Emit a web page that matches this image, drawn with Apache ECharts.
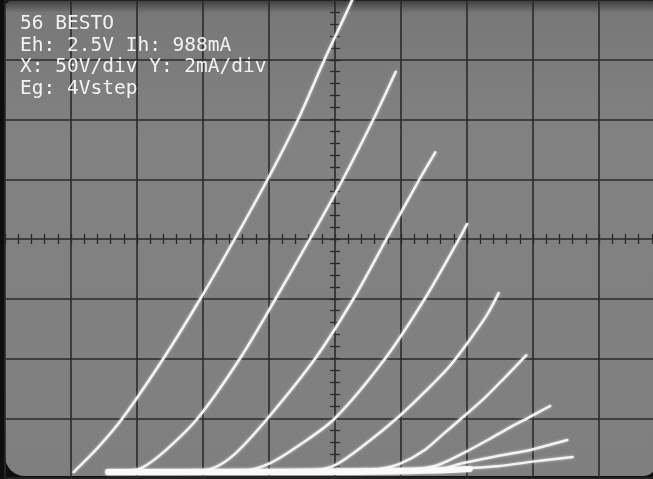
<!DOCTYPE html>
<html>
<head>
<meta charset="utf-8">
<script src="https://cdn.jsdelivr.net/npm/echarts@6/dist/echarts.min.js"></script>
<style>
html,body{margin:0;padding:0;background:#0e0e0e;}
#chart{width:653px;height:479px;}
</style>
</head>
<body>
<div id="chart"></div>
<script>
// Plate voltage (V) vs plate current (mA); X: 50V/div, Y: 2mA/div, Eg: 4V step
var titleLines = ['56 BESTO', 'Eh: 2.5V Ih: 988mA', 'X: 50V/div Y: 2mA/div', 'Eg: 4Vstep'];
var curveNames = ['Eg 0V', 'Eg -4V', 'Eg -8V', 'Eg -12V', 'Eg -16V', 'Eg -20V', 'Eg -24V', 'Eg -28V', 'Eg -32V'];
var eg0  = [[52,0.2],[70,1.0],[89,2.0],[120,4.0],[148,6.0],[174,8.0],[199,10.0],[222,12.0],[242,14.0],[263,16.0],[268,16.6]];
var eg4  = [[78,0.2],[92,0.22],[104,0.35],[121,0.9],[146,2.0],[178,4.0],[205,6.0],[231,8.0],[256,10.0],[279,12.0],[296,13.6]];
var eg8  = [[78,0.2],[140,0.22],[157,0.32],[174,0.8],[199,2.0],[235,4.0],[264,6.0],[289,8.0],[314,10.0],[326,10.9]];
var eg12 = [[78,0.2],[180,0.24],[201,0.5],[223,1.1],[250,2.0],[288,4.0],[318,6.0],[344,8.0],[350,8.5]];
var eg16 = [[78,0.2],[233,0.26],[250,0.43],[274,1.17],[298,2.04],[318,2.88],[337,3.75],[352,4.62],[365,5.45],[374,6.19]];
var eg20 = [[78,0.2],[270,0.24],[284,0.3],[299,0.47],[318,0.94],[333,1.51],[347,2.04],[364,2.71],[379,3.38],[395,4.11]];
var eg24 = [[78,0.2],[300,0.25],[314,0.3],[330,0.47],[348,0.85],[366,1.28],[382,1.68],[397,2.03],[413,2.41]];
var eg28 = [[78,0.2],[315,0.26],[330,0.3],[347,0.5],[375,0.75],[398,0.94],[426,1.27]];
var eg32 = [[78,0.2],[347,0.33],[375,0.4],[398,0.54],[430,0.7]];
var cutoff = [[78,0.2],[250,0.2],[330,0.25],[352,0.3]];
var curves = [eg0, eg4, eg8, eg12, eg16, eg20, eg24, eg28, eg32];

var chart = echarts.init(document.getElementById('chart'), null, {renderer:'canvas'});
var lineCol = '#2a2a2a';
var trace = '#f3f3f3';

var series = curves.map(function(d, i){
  return {
    name: curveNames[i], type:'line', data:d, xAxisIndex:0, yAxisIndex:0,
    smooth:0.3, symbol:'none', silent:true, z:5,
    lineStyle:{color:trace, width:2.5, cap:'round', join:'round',
      shadowBlur:3, shadowColor:'rgba(255,255,255,0.55)'}
  };
});
series.push({
  name:'cutoff', type:'line', data:cutoff, xAxisIndex:0, yAxisIndex:0,
  smooth:0.3, symbol:'none', silent:true, z:6,
  lineStyle:{color:'#fafafa', width:6, cap:'round',
    shadowBlur:3, shadowColor:'rgba(255,255,255,0.6)'}
});

var els = titleLines.map(function(t, i){
  return {
    type:'text', left:20, top:14 + i*21.7, z:100,
    style:{text:t, fill:'#f2f2f2', font:'19.5px "DejaVu Sans Mono"'}
  };
});
els.unshift({
  type:'rect', z:-10, left:5, top:1,
  shape:{width:652, height:475, r:[6,4,14,20]},
  style:{fill:new echarts.graphic.LinearGradient(0,0,0,1,[
    {offset:0, color:'#404040'},{offset:0.025, color:'#787878'},
    {offset:0.3, color:'#828282'},{offset:1, color:'#7f7f7f'}])}
});

chart.setOption({
  backgroundColor:'#0e0e0e',
  animation:false,
  grid:{left:5, top:0, width:660, height:478, containLabel:false, outerBoundsMode:'none'},
  xAxis:[
    {type:'value', min:0, max:500, interval:50, position:'top',
      axisLine:{show:false, onZero:false}, axisTick:{show:false}, axisLabel:{show:false},
      splitLine:{show:true, lineStyle:{color:lineCol, width:1.6}}},
    {type:'value', min:0, max:500, interval:10, position:'bottom', offset:-244,
      axisLine:{show:false, onZero:false}, axisLabel:{show:false}, splitLine:{show:false},
      axisTick:{show:true, length:10, lineStyle:{color:lineCol, width:1.3}}}
  ],
  yAxis:[
    {type:'value', min:0, max:16, interval:2, position:'right',
      axisLine:{show:false, onZero:false}, axisTick:{show:false}, axisLabel:{show:false},
      splitLine:{show:true, lineStyle:{color:lineCol, width:1.6}}},
    {type:'value', min:0, max:16, interval:0.4, position:'left', offset:-325,
      axisLine:{show:false, onZero:false}, axisLabel:{show:false}, splitLine:{show:false},
      axisTick:{show:true, inside:true, length:10, lineStyle:{color:lineCol, width:1.3}}}
  ],
  graphic:{elements:els},
  series:series
});
</script>
</body>
</html>
